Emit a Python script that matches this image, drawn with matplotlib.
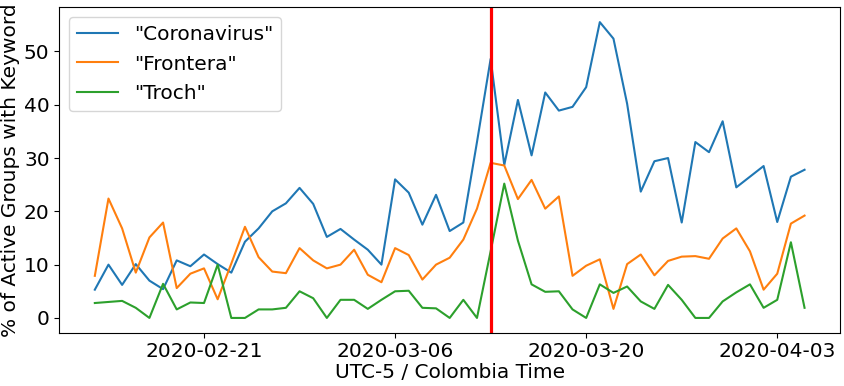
import numpy as np
import pandas as pd
import matplotlib
matplotlib.use("Agg")
import matplotlib.pyplot as plt
import matplotlib.dates as mdates

# %% data (daily, 2020-02-13 .. 2020-04-05)
dates = pd.date_range("2020-02-13", "2020-04-05", freq="D")

coronavirus = [5.3, 10.0, 6.2, 10.1, 7.0, 5.4, 10.8, 9.7, 11.9, 10.1,
               8.5, 14.3, 16.8, 20.0, 21.5, 24.4, 21.4, 15.2, 16.7, 14.7,
               12.8, 10.0, 26.0, 23.5, 17.5, 23.1, 16.3, 17.9, 33.0, 48.6,
               28.7, 40.9, 30.5, 42.3, 38.9, 39.6, 43.3, 55.5, 52.4, 40.2,
               23.7, 29.4, 30.0, 17.9, 33.0, 31.1, 36.9, 24.5, 26.5, 28.5,
               18.0, 26.5, 27.8]

frontera = [7.9, 22.4, 16.8, 8.5, 15.1, 17.9, 5.6, 8.3, 9.3, 3.5,
            10.2, 17.1, 11.4, 8.7, 8.4, 13.1, 10.8, 9.3, 10.0, 12.8,
            8.1, 6.7, 13.1, 11.8, 7.2, 10.0, 11.3, 14.7, 20.5, 29.1,
            28.6, 22.3, 25.9, 20.5, 22.8, 7.9, 9.8, 11.0, 1.7, 10.1,
            11.9, 8.0, 10.7, 11.5, 11.6, 11.1, 14.9, 16.8, 12.5, 5.3,
            8.3, 17.7, 19.2]

troch = [2.8, 3.0, 3.2, 1.9, 0.0, 6.4, 1.6, 2.9, 2.8, 10.0,
         0.0, 0.0, 1.6, 1.6, 1.9, 5.0, 3.7, 0.0, 3.4, 3.4,
         1.7, 3.4, 5.0, 5.1, 1.9, 1.8, 0.0, 3.4, 0.0, 12.5,
         25.2, 14.5, 6.3, 4.9, 5.0, 1.6, 0.0, 6.3, 4.7, 5.9,
         3.1, 1.7, 6.2, 3.4, 0.0, 0.0, 3.1, 4.8, 6.3, 1.9,
         3.4, 14.2, 1.9]

labels = ['"Coronavirus"', '"Frontera"', '"Troch"']
event_date = pd.Timestamp("2020-03-13")
tick_dates = pd.to_datetime(["2020-02-21", "2020-03-06", "2020-03-20", "2020-04-03"])

# %% plot
plt.rcParams['font.size'] = 14.5

fig = plt.figure(figsize=(8.44, 3.86), dpi=100)
ax = fig.add_axes([0.0703, 0.138, 0.925, 0.843])

for series, lab in zip([coronavirus, frontera, troch], labels):
    ax.plot(dates, series, label=lab, lw=1.5)

ax.axvline(event_date, color='red', lw=2.3)

ax.set_xticks(tick_dates)
ax.xaxis.set_major_formatter(mdates.DateFormatter('%Y-%m-%d'))
ax.set_xlabel('UTC-5 / Colombia Time', labelpad=1)
ax.set_ylabel('% of Active Groups with Keyword', labelpad=3)
ax.legend(loc='upper left')

fig.savefig('out.png', dpi=100)
